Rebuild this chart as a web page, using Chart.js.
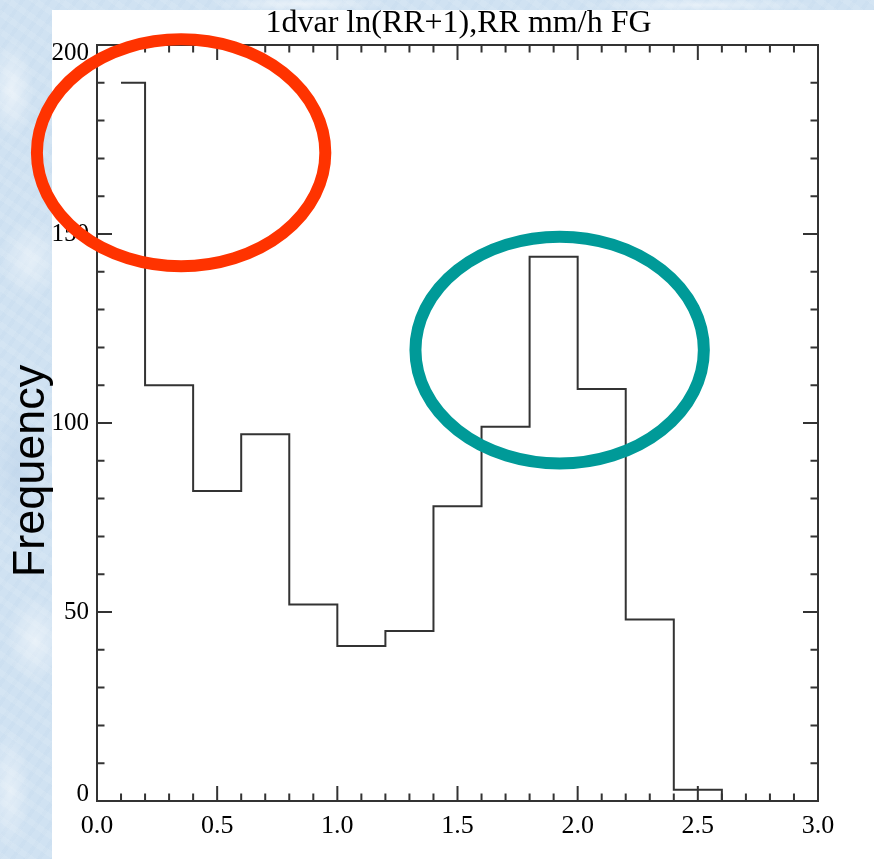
<!DOCTYPE html>
<html>
<head>
<meta charset="utf-8">
<title>1dvar ln(RR+1),RR mm/h FG</title>
<script src="https://cdn.jsdelivr.net/npm/chart.js@4.4.1/dist/chart.umd.min.js"></script>
<style>
  html, body { margin: 0; padding: 0; }
  body {
    width: 874px; height: 859px; overflow: hidden; position: relative;
    background-color: #d0e2f2;
    background-image:
      radial-gradient(ellipse 22px 50px at 12px 90px, rgba(255,255,255,.55), rgba(255,255,255,0)),
      radial-gradient(ellipse 30px 40px at 30px 260px, rgba(255,255,255,.45), rgba(255,255,255,0)),
      radial-gradient(ellipse 25px 70px at 18px 470px, rgba(185,208,232,.5), rgba(185,208,232,0)),
      radial-gradient(ellipse 28px 45px at 35px 640px, rgba(255,255,255,.5), rgba(255,255,255,0)),
      radial-gradient(ellipse 20px 60px at 10px 790px, rgba(255,255,255,.45), rgba(255,255,255,0)),
      radial-gradient(ellipse 90px 8px at 300px 4px, rgba(255,255,255,.55), rgba(255,255,255,0)),
      radial-gradient(ellipse 120px 7px at 700px 5px, rgba(255,255,255,.45), rgba(255,255,255,0)),
      repeating-linear-gradient(35deg, rgba(255,255,255,.09) 0 6px, rgba(255,255,255,0) 6px 15px),
      repeating-linear-gradient(-55deg, rgba(175,202,228,.1) 0 4px, rgba(175,202,228,0) 4px 11px);
  }
  canvas { position: absolute; left: 0; top: 0; }
</style>
</head>
<body>
<canvas id="myChart" width="874" height="859"></canvas>
<script>
// histogram of ln(RR+1), bins 0.2 wide
const binCenters = [0.1, 0.3, 0.5, 0.7, 0.9, 1.1, 1.3, 1.5, 1.7, 1.9, 2.1, 2.3, 2.5, 2.7];
const frequency = [190, 110, 82, 97, 52, 41, 45, 78, 99, 144, 109, 48, 3, 0];
const xTickLabels = ['0.0', '0.5', '1.0', '1.5', '2.0', '2.5', '3.0'];
const yTickValues = [0, 50, 100, 150, 200];

const titleText = '1dvar ln(RR+1),RR mm/h FG';
const yTitle = 'Frequency';

// the two highlight rings, in data units
const rings = [
    { x: 0.35, y: 171.5, rx: 0.6, ry: 30, color: '#ff3300' },
    { x: 1.925, y: 119.3, rx: 0.6, ry: 30, color: '#009a98' }
];

const points = binCenters.map(function (c, i) { return { x: c, y: frequency[i] }; });

const frame = {
    id: 'frame',
    beforeDraw(chart) {
        const ctx = chart.ctx;
        ctx.save();
        ctx.fillStyle = '#ffffff';
        ctx.fillRect(52, 10, chart.width - 52, chart.height - 10);
        ctx.restore();
    },
    afterDraw(chart) {
        const ctx = chart.ctx;
        const a = chart.chartArea;
        const x = chart.scales.x;
        const y = chart.scales.y;
        ctx.save();

        // box + inward ticks
        ctx.strokeStyle = '#333333';
        ctx.lineWidth = 2;
        ctx.strokeRect(a.left, a.top, a.right - a.left, a.bottom - a.top);
        ctx.beginPath();
        for (let i = 0; i <= 30; i++) {
            const px = x.getPixelForValue(i / 10);
            const len = i % 5 === 0 ? 15 : 7.5;
            ctx.moveTo(px, a.bottom); ctx.lineTo(px, a.bottom - len);
            ctx.moveTo(px, a.top); ctx.lineTo(px, a.top + len);
        }
        for (let i = 0; i <= 20; i++) {
            const py = y.getPixelForValue(i * 10);
            const len = i % 5 === 0 ? 15 : 7.5;
            ctx.moveTo(a.left, py); ctx.lineTo(a.left + len, py);
            ctx.moveTo(a.right, py); ctx.lineTo(a.right - len, py);
        }
        ctx.stroke();

        // y tick labels
        ctx.fillStyle = '#000000';
        ctx.font = '25px "Liberation Serif", "DejaVu Serif", serif';
        ctx.textAlign = 'right';
        ctx.textBaseline = 'middle';
        yTickValues.forEach(function (v) {
            let py = y.getPixelForValue(v);
            if (v === y.min) py -= 7;
            if (v === y.max) py += 8;
            ctx.fillText(String(v), a.left - 8, py);
        });

        // title
        ctx.textAlign = 'center';
        ctx.textBaseline = 'alphabetic';
        ctx.font = '32px "Liberation Serif", "DejaVu Serif", serif';
        ctx.fillText(titleText, (a.left + a.right) / 2 + 1, 32);

        // axis title
        ctx.save();
        ctx.translate(44, 471);
        ctx.rotate(-Math.PI / 2);
        ctx.font = '45px "Liberation Sans", Arial, sans-serif';
        ctx.fillText(yTitle, 0, 0);
        ctx.restore();

        // rings
        ctx.lineWidth = 12;
        rings.forEach(function (r) {
            const cx = x.getPixelForValue(r.x);
            const cy = y.getPixelForValue(r.y);
            const rx = Math.abs(x.getPixelForValue(r.x + r.rx) - cx);
            const ry = Math.abs(y.getPixelForValue(r.y + r.ry) - cy);
            ctx.strokeStyle = r.color;
            ctx.beginPath();
            ctx.ellipse(cx, cy, rx, ry, 0, 0, Math.PI * 2);
            ctx.stroke();
        });

        ctx.restore();
    }
};

const ctx = document.getElementById('myChart');

new Chart(ctx, {
    type: 'line',
    data: {
        datasets: [{
            label: yTitle,
            data: points,
            stepped: 'middle',
            borderColor: '#333333',
            borderWidth: 2,
            pointRadius: 0,
            fill: false
        }]
    },
    options: {
        responsive: false,
        animation: false,
        layout: { padding: { left: 52, right: 56, top: 45, bottom: 0 } },
        plugins: {
            legend: { display: false },
            tooltip: { enabled: false },
            title: { display: false }
        },
        scales: {
            x: {
                type: 'linear',
                min: 0,
                max: 3,
                grid: { display: false, drawTicks: false },
                border: { display: false },
                afterFit: function (s) { s.height = 58; },
                ticks: {
                    stepSize: 0.5,
                    padding: 12,
                    color: '#000000',
                    maxRotation: 0,
                    font: { family: '"Liberation Serif", "DejaVu Serif", serif', size: 26, lineHeight: 1 },
                    callback: function (value, index) { return xTickLabels[index]; }
                }
            },
            y: {
                min: 0,
                max: 200,
                grid: { display: false, drawTicks: false },
                border: { display: false },
                afterFit: function (s) { s.width = 45; },
                ticks: { display: false, stepSize: 50 }
            }
        }
    },
    plugins: [frame]
});
</script>
</body>
</html>
